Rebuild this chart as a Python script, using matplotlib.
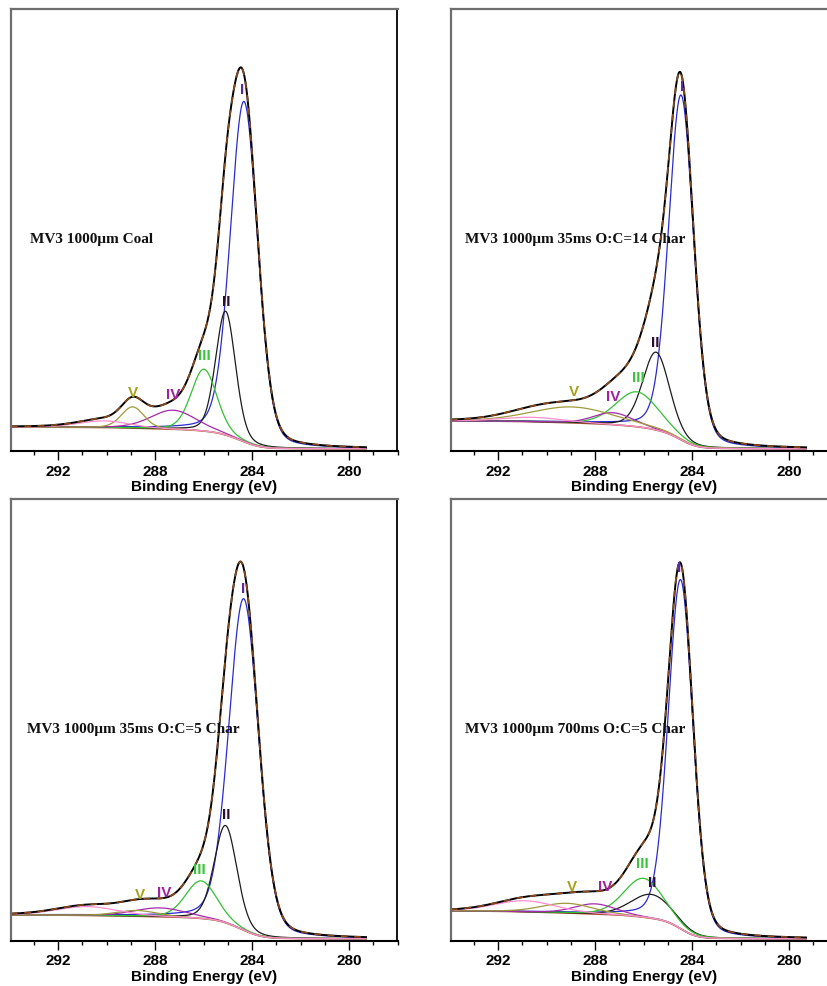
import numpy as np
import matplotlib.pyplot as plt

W, H = 828, 987

titles = ['MV3 1000\u03bcm Coal',
          'MV3 1000\u03bcm 35ms O:C=14 Char',
          'MV3 1000\u03bcm 35ms O:C=5 Char',
          'MV3 1000\u03bcm 700ms O:C=5 Char']

peak_names = ['I', 'II', 'III', 'IV', 'V']

# fitted C1s components I..V plus the small unlabelled one
# centre (eV), height (% of frame above background), FWHM (eV)
coal_centre = [284.33, 285.09, 285.98, 287.26, 288.92, 290.1]
coal_height = [77.0, 28.0, 14.0, 4.3, 4.8, 1.5]
coal_fwhm = [1.33, 0.96, 1.24, 2.2, 1.1, 2.5]

c14_centre = [284.45, 285.48, 286.27, 287.25, 288.94, 290.6]
c14_height = [78.0, 17.6, 7.9, 2.7, 3.6, 1.0]
c14_fwhm = [1.22, 1.3, 2.07, 1.9, 4.0, 3.0]

c5_centre = [284.34, 285.09, 286.10, 287.8, 288.75, 290.8]
c5_height = [75.0, 22.0, 8.5, 2.0, 1.3, 2.0]
c5_fwhm = [1.45, 1.1, 1.5, 2.5, 2.0, 3.0]

c700_centre = [284.47, 285.67, 286.0, 288.0, 289.15, 290.9]
c700_height = [79.0, 5.4, 8.8, 2.3, 2.2, 2.5]
c700_fwhm = [1.2, 2.0, 1.9, 2.0, 2.5, 3.0]

# Shirley background end points (% of frame): low-BE side, high-BE side
coal_bg = [0.5, 5.4]
c14_bg = [0.5, 6.8]
c5_bg = [0.5, 5.9]
c700_bg = [0.5, 6.8]

# label anchors (BE, % of frame) for I..V
coal_lab = [(284.41, 81.9), (285.07, 33.9), (285.98, 21.7), (287.26, 12.9), (288.91, 13.3)]
c14_lab = [(284.41, 82.6), (285.51, 24.7), (286.21, 16.7), (287.25, 12.4), (288.86, 13.6)]
c5_lab = [(284.38, 79.9), (285.08, 28.7), (286.19, 16.3), (287.63, 11.1), (288.62, 10.6)]
c700_lab = [(284.52, 84.6), (285.64, 13.3), (286.05, 17.6), (287.58, 12.4), (288.94, 12.4)]

panels = [
    (coal_centre, coal_height, coal_fwhm, coal_bg, coal_lab),
    (c14_centre, c14_height, c14_fwhm, c14_bg, c14_lab),
    (c5_centre, c5_height, c5_fwhm, c5_bg, c5_lab),
    (c700_centre, c700_height, c700_fwhm, c700_bg, c700_lab),
]

comp_colors = ['#2a2ad2', '#1c1c1c', '#33c033', '#a52aaa', '#9e9a3c', '#ff8fcf']
lab_colors = ['#5a2aa0', '#2a0f33', '#3cc43c', '#a0229e', '#a8a01e']

# axes rectangles in pixels: left, top
rects = [(11, 10), (451, 10), (11, 500), (451, 500)]
ax_w, ax_h = 386.5, 442
text_x = [0.049, 0.036, 0.041, 0.036]

be = np.linspace(293.94, 279.3, 1500)


def gl(x, c, h, w, m=0.2):
    d = (x - c) / w
    return h * ((1 - m) * np.exp(-4 * np.log(2) * d ** 2) + m / (1 + 4 * d ** 2))


fig = plt.figure(figsize=(W / 100, H / 100), dpi=100)

for k, (cen, hgt, fw, bgl, lab) in enumerate(panels):
    left, top = rects[k]
    ax = fig.add_axes([left / W, 1 - (top + ax_h) / H, ax_w / W, ax_h / H])

    comps = [gl(be, c, h, w) for c, h, w in zip(cen, hgt, fw)]
    total = np.sum(comps, axis=0)
    # Shirley-type step: integrate from the low-BE end upward
    area = np.cumsum(total[::-1])[::-1]
    bg = bgl[0] + (bgl[1] - bgl[0]) * (area - area[-1]) / (area[0] - area[-1])

    ax.plot(be, bg, color='#a0522d', lw=1.2)
    for comp, col in zip(comps, comp_colors):
        ax.plot(be, comp + bg, color=col, lw=0.9)
    env = total + bg
    ax.plot(be, env, color='black', lw=1.4)
    ax.plot(be, env, color='#8b4a1c', lw=1.2, dashes=(4, 4))

    for name, (x, y), col in zip(peak_names, lab, lab_colors):
        ax.text(x, y, name, color=col, fontsize=11, fontweight='bold',
                family='Liberation Sans', ha='center', va='center')

    ax.text(text_x[k], 0.48, titles[k], transform=ax.transAxes,
            family='Liberation Serif', fontweight='bold', fontsize=11,
            ha='left', va='center', color='#111111')

    ax.set_xlim(293.94, 278.0)
    ax.set_ylim(0, 100)
    ax.set_xticks([292, 288, 284, 280])
    ax.set_xticks(np.arange(278, 294), minor=True)
    ax.set_yticks([])
    ax.tick_params(axis='x', which='major', length=6.5, width=1, pad=2.5,
                   labelsize=11)
    ax.tick_params(axis='x', which='minor', length=3, width=1)
    for t in ax.get_xticklabels():
        t.set_fontweight('bold')
        t.set_family('Liberation Sans')
    ax.set_xlabel('Binding Energy (eV)', fontsize=11, fontweight='bold',
                  family='Liberation Sans', labelpad=1)
    ax.spines['left'].set_color('#6e6e6e')
    ax.spines['top'].set_color('#6e6e6e')
    ax.spines['left'].set_linewidth(1.6)
    ax.spines['top'].set_linewidth(1.6)
    ax.spines['right'].set_linewidth(1.3)
    ax.spines['bottom'].set_linewidth(1.5)

fig.savefig('out.png', dpi=100)
